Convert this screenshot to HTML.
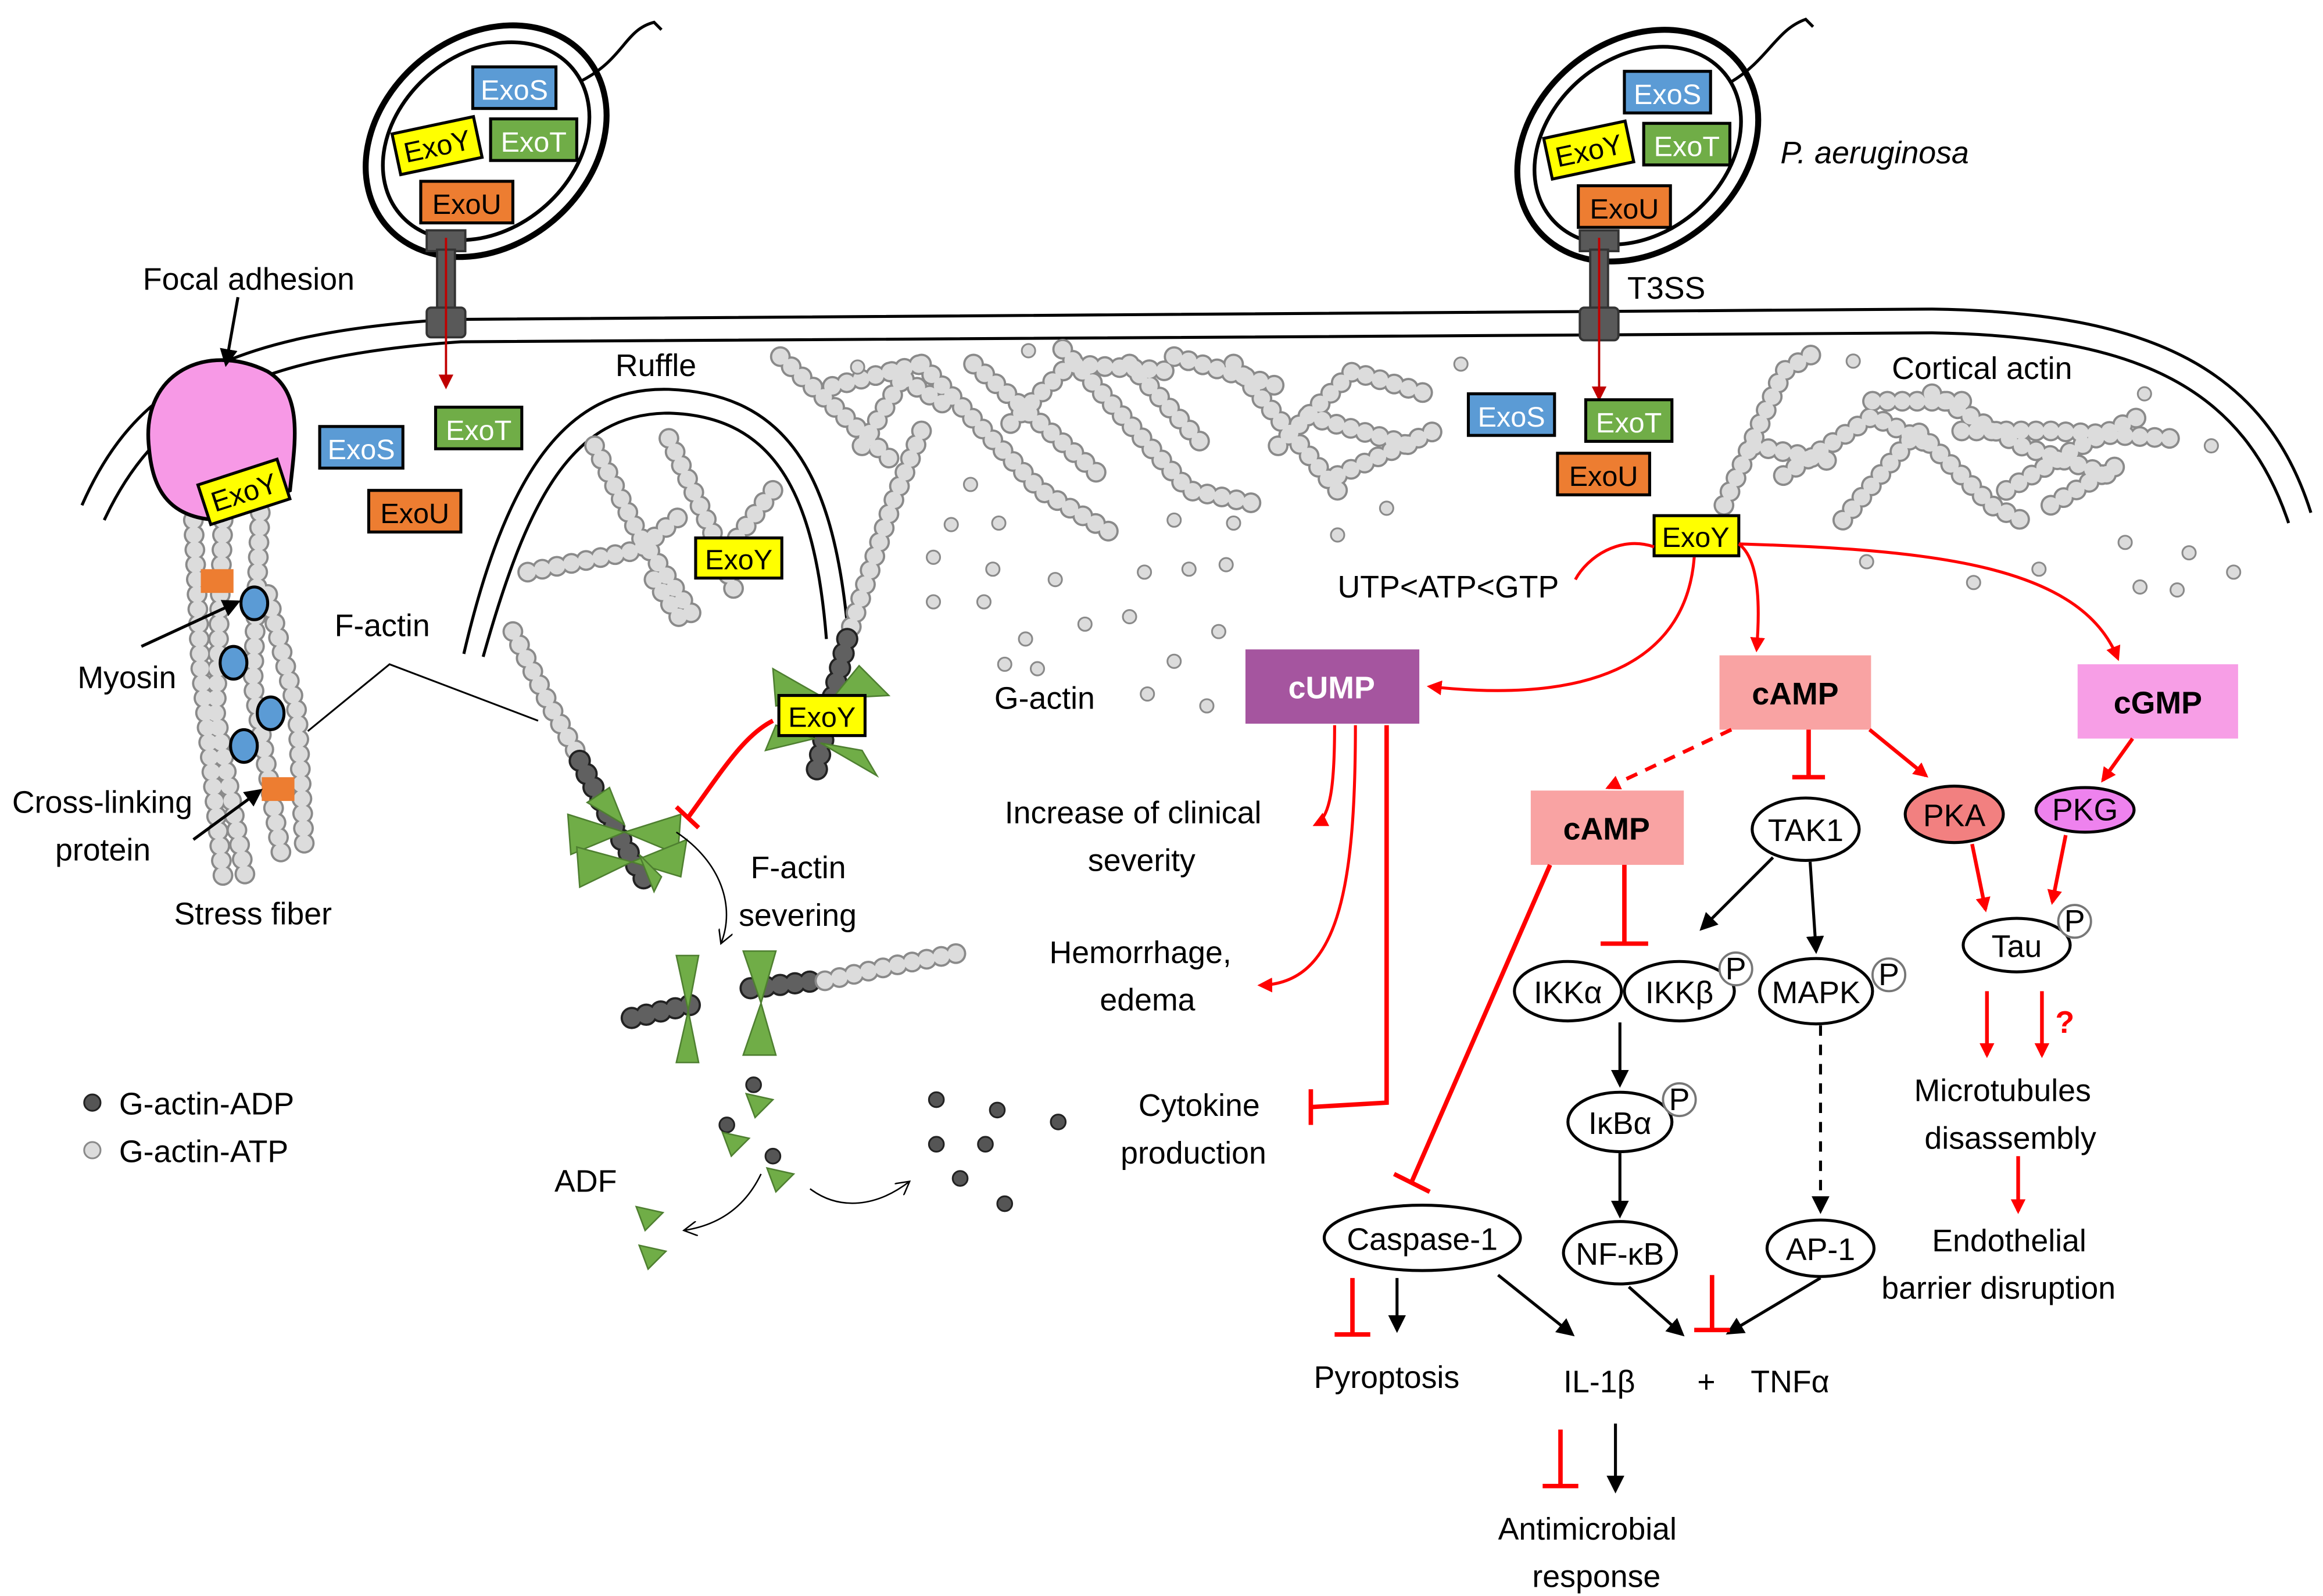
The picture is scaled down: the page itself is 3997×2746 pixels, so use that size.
<!DOCTYPE html>
<html><head><meta charset="utf-8"><style>
html,body{margin:0;padding:0;background:#fff;}
svg{display:block;}
text{font-family:"Liberation Sans",sans-serif;font-size:21px;fill:#000;}
.b{font-size:19px;}
.w{fill:#fff;}
.fo{fill:none;stroke:#8a8a8a;stroke-width:14;stroke-dasharray:0 10;stroke-linecap:round;}
.fi{fill:none;stroke:#dcdcdc;stroke-width:11;stroke-dasharray:0 10;stroke-linecap:round;}
.do{fill:none;stroke:#222;stroke-width:15;stroke-dasharray:0 10;stroke-linecap:round;}
.di{fill:none;stroke:#606060;stroke-width:12;stroke-dasharray:0 10;stroke-linecap:round;}
.r{stroke:#f00;stroke-width:2;fill:none;}
.R{stroke:#f00;stroke-width:3;fill:none;}
.k{stroke:#000;stroke-width:2;fill:none;}
.e{fill:#fff;stroke:#000;stroke-width:2;}
.g{fill:#dcdcdc;stroke:#8a8a8a;stroke-width:1.2;}
.gd{fill:#555;stroke:#222;stroke-width:1.2;}
.tri{fill:#70ad47;stroke:#4e7f30;stroke-width:1;}
</style></head><body>
<svg width="3997" height="2746" viewBox="0 0 1563 1074" xmlns="http://www.w3.org/2000/svg">
<defs>
<marker id="ar" markerWidth="10" markerHeight="10" refX="8" refY="5" orient="auto" markerUnits="userSpaceOnUse"><path d="M0,0 L10,5 L0,10 z" fill="#f00"/></marker>
<marker id="ak" markerWidth="12" markerHeight="12" refX="10" refY="6" orient="auto" markerUnits="userSpaceOnUse"><path d="M0,0 L12,6 L0,12 z" fill="#000"/></marker>
<marker id="ad" markerWidth="10" markerHeight="10" refX="8" refY="5" orient="auto" markerUnits="userSpaceOnUse"><path d="M0,0 L10,5 L0,10 z" fill="#c00000"/></marker>
<marker id="ao" markerWidth="10" markerHeight="10" refX="9" refY="5" orient="auto" markerUnits="userSpaceOnUse"><path d="M0,0 L9,5 L0,10" fill="none" stroke="#000"/></marker>
</defs>

<!-- membrane -->
<path d="M55,340 C90,260 150,225 300,215 L1300,208 C1450,210 1525,250 1555,345" class="k" stroke-width="1.5"/>
<path d="M70,350 C105,275 165,240 310,230 L1300,224 C1440,226 1510,262 1540,352" class="k" stroke-width="1.5"/>
<!-- ruffle -->
<path d="M312,440 C340,320 380,260 450,262 C530,265 560,320 570,420" class="k" stroke-width="1.5"/>
<path d="M325,442 C355,335 385,278 450,278 C520,280 548,330 556,430" class="k" stroke-width="1.5"/>

<g>
<path class="fo" d="M525,240 L600,310 M560,260 L620,245 M580,300 L610,250 M600,250 L640,275 M620,245 L700,330 L750,360 M655,245 L740,320 M680,285 L720,245 L790,250 M715,235 L800,330 L850,340 M760,245 L810,300 M790,240 L860,260 M830,245 L900,330 M860,300 L910,250 L960,265 M880,280 L950,300 M900,320 L965,290"/>
<path class="fi" d="M525,240 L600,310 M560,260 L620,245 M580,300 L610,250 M600,250 L640,275 M620,245 L700,330 L750,360 M655,245 L740,320 M680,285 L720,245 L790,250 M715,235 L800,330 L850,340 M760,245 L810,300 M790,240 L860,260 M830,245 L900,330 M860,300 L910,250 L960,265 M880,280 L950,300 M900,320 L965,290"/>
<path class="fo" d="M1160,340 L1200,250 L1225,235 M1180,300 L1230,310 M1200,320 L1260,280 L1300,300 M1240,350 L1290,290 L1340,340 L1360,350 M1260,270 L1330,270 M1300,265 L1360,300 L1420,320 M1320,290 L1380,290 L1460,295 M1350,330 L1400,300 L1440,280 M1380,340 L1430,310"/>
<path class="fi" d="M1160,340 L1200,250 L1225,235 M1180,300 L1230,310 M1200,320 L1260,280 L1300,300 M1240,350 L1290,290 L1340,340 L1360,350 M1260,270 L1330,270 M1300,265 L1360,300 L1420,320 M1320,290 L1380,290 L1460,295 M1350,330 L1400,300 L1440,280 M1380,340 L1430,310"/>
<path class="fo" d="M355,385 L430,370 L460,345 M400,300 L430,360 L470,420 M450,295 L480,360 L495,400 M520,330 L490,370 M440,390 L460,420"/>
<path class="fi" d="M355,385 L430,370 L460,345 M400,300 L430,360 L470,420 M450,295 L480,360 L495,400 M520,330 L490,370 M440,390 L460,420"/>
<path class="fo" d="M620,290 L600,340 L580,400 L570,430"/>
<path class="fi" d="M620,290 L600,340 L580,400 L570,430"/>
<path class="do" d="M570,430 L560,470 L548,525"/>
<path class="di" d="M570,430 L560,470 L548,525"/>
<path class="fo" d="M345,425 L370,475 L390,510"/>
<path class="fi" d="M345,425 L370,475 L390,510"/>
<path class="do" d="M390,512 L415,560 L437,598"/>
<path class="di" d="M390,512 L415,560 L437,598"/>
<path class="do" d="M425,685 L470,675 M505,665 L550,660"/>
<path class="di" d="M425,685 L470,675 M505,665 L550,660"/>
<path class="fo" d="M555,660 L600,650 L652,640"/>
<path class="fi" d="M555,660 L600,650 L652,640"/>
<path class="fo" d="M130,350 L135,450 L150,590 M150,350 L145,480 L165,590 M175,345 L170,460 L190,580 M180,400 L200,480 L205,575"/>
<path class="fi" d="M130,350 L135,450 L150,590 M150,350 L145,480 L165,590 M175,345 L170,460 L190,580 M180,400 L200,480 L205,575"/>
</g>

<g class="g">
<circle cx="577" cy="247" r="4.5"/><circle cx="692" cy="236" r="4.5"/><circle cx="653" cy="326" r="4.5"/><circle cx="640" cy="353" r="4.5"/><circle cx="672" cy="352" r="4.5"/><circle cx="628" cy="375" r="4.5"/><circle cx="668" cy="383" r="4.5"/><circle cx="710" cy="390" r="4.5"/><circle cx="628" cy="405" r="4.5"/><circle cx="662" cy="405" r="4.5"/><circle cx="690" cy="430" r="4.5"/><circle cx="730" cy="420" r="4.5"/><circle cx="770" cy="385" r="4.5"/><circle cx="800" cy="383" r="4.5"/><circle cx="825" cy="380" r="4.5"/><circle cx="790" cy="350" r="4.5"/><circle cx="830" cy="352" r="4.5"/><circle cx="760" cy="415" r="4.5"/><circle cx="790" cy="445" r="4.5"/><circle cx="820" cy="425" r="4.5"/><circle cx="676" cy="447" r="4.5"/><circle cx="698" cy="450" r="4.5"/><circle cx="772" cy="467" r="4.5"/><circle cx="812" cy="475" r="4.5"/><circle cx="900" cy="360" r="4.5"/><circle cx="933" cy="342" r="4.5"/><circle cx="983" cy="245" r="4.5"/><circle cx="1247" cy="243" r="4.5"/><circle cx="1443" cy="265" r="4.5"/><circle cx="1488" cy="300" r="4.5"/><circle cx="1430" cy="365" r="4.5"/><circle cx="1473" cy="372" r="4.5"/><circle cx="1503" cy="385" r="4.5"/><circle cx="1440" cy="395" r="4.5"/><circle cx="1465" cy="397" r="4.5"/><circle cx="1328" cy="392" r="4.5"/><circle cx="1372" cy="383" r="4.5"/><circle cx="1256" cy="378" r="4.5"/>
<circle cx="62" cy="774" r="5.5"/>
</g>
<g class="gd">
<circle cx="62" cy="742" r="5.5"/>
<circle cx="507" cy="730" r="5"/><circle cx="489" cy="757" r="5"/><circle cx="520" cy="778" r="5"/><circle cx="630" cy="740" r="5"/><circle cx="671" cy="747" r="5"/><circle cx="712" cy="755" r="5"/><circle cx="630" cy="770" r="5"/><circle cx="663" cy="770" r="5"/><circle cx="646" cy="793" r="5"/><circle cx="676" cy="810" r="5"/>
</g>

<!-- ADF bow-ties -->
<g class="tri">
<polygon points="382,548 420,560 384,575"/><polygon points="458,548 420,560 456,575"/>
<polygon points="388,570 425,580 390,597"/><polygon points="462,565 425,580 458,590"/>
<polygon points="395,540 420,555 410,530"/><polygon points="445,590 430,575 440,600"/>
<polygon points="455,643 463,680 470,643"/><polygon points="455,715 463,680 470,715"/>
<polygon points="500,640 512,675 522,640"/><polygon points="500,710 512,675 522,710"/>
<polygon points="520,450 555,470 522,475"/><polygon points="598,468 560,470 578,448"/>
<polygon points="515,505 548,497 522,488"/><polygon points="590,522 552,500 580,505"/>
<polygon points="502,736 520,740 508,752"/><polygon points="486,762 504,766 492,778"/><polygon points="516,786 534,790 522,802"/><polygon points="428,812 446,816 434,828"/><polygon points="430,838 448,842 436,854"/>
</g>

<path d="M100,300 C95,250 140,230 180,250 C205,265 198,300 195,330 L150,350 C110,350 102,325 100,300z" fill="#f799e6" stroke="#000" stroke-width="2.5"/>
<rect x="135" y="383" width="22" height="16" fill="#ed7d31"/>
<rect x="176" y="523" width="22" height="16" fill="#ed7d31"/>
<g fill="#5b9bd5" stroke="#000" stroke-width="2">
<ellipse cx="171" cy="406" rx="9" ry="11"/><ellipse cx="157" cy="446" rx="9" ry="11"/><ellipse cx="182" cy="480" rx="9" ry="11"/><ellipse cx="164" cy="502" rx="9" ry="11"/>
</g>

<g fill="none" stroke="#000">
<ellipse cx="327" cy="95" rx="88" ry="70" stroke-width="4" transform="rotate(-40 327 95)"/>
<ellipse cx="327" cy="95" rx="76" ry="59" stroke-width="2.5" transform="rotate(-40 327 95)"/>
<path d="M390,55 C420,40 420,20 440,15 L445,20" stroke-width="2"/>
<ellipse cx="1102" cy="98" rx="88" ry="70" stroke-width="4" transform="rotate(-40 1102 98)"/>
<ellipse cx="1102" cy="98" rx="76" ry="59" stroke-width="2.5" transform="rotate(-40 1102 98)"/>
<path d="M1165,55 C1190,40 1195,20 1215,13 L1220,18" stroke-width="2"/>
</g>
<g fill="#595959" stroke="#333" stroke-width="1.5">
<rect x="287" y="155" width="26" height="14"/><rect x="294" y="168" width="12" height="40"/><rect x="287" y="207" width="26" height="20" rx="3"/>
<rect x="1063" y="155" width="26" height="14"/><rect x="1070" y="168" width="12" height="40"/><rect x="1063" y="207" width="26" height="22" rx="3"/>
</g>
<path d="M300,160 L300,260" stroke="#c00000" stroke-width="1.5" marker-end="url(#ad)"/>
<path d="M1076,160 L1076,268" stroke="#c00000" stroke-width="1.5" marker-end="url(#ad)"/>

<g stroke="#000" stroke-width="2">
<rect x="318" y="45" width="56" height="28" fill="#5b9bd5"/><rect x="330" y="80" width="58" height="28" fill="#70ad47"/><rect x="283" y="122" width="62" height="28" fill="#ed7d31"/>
<rect x="266" y="84" width="56" height="28" fill="#ffff00" transform="rotate(-12 294 98)"/>
<rect x="1093" y="48" width="58" height="28" fill="#5b9bd5"/><rect x="1106" y="83" width="58" height="28" fill="#70ad47"/><rect x="1062" y="125" width="62" height="28" fill="#ed7d31"/>
<rect x="1041" y="87" width="56" height="28" fill="#ffff00" transform="rotate(-12 1069 101)"/>
<rect x="215" y="287" width="56" height="28" fill="#5b9bd5"/><rect x="293" y="274" width="58" height="28" fill="#70ad47"/><rect x="248" y="330" width="62" height="28" fill="#ed7d31"/>
<rect x="136" y="317" width="56" height="28" fill="#ffff00" transform="rotate(-18 164 331)"/>
<rect x="988" y="265" width="58" height="28" fill="#5b9bd5"/><rect x="1067" y="269" width="58" height="28" fill="#70ad47"/><rect x="1048" y="305" width="62" height="28" fill="#ed7d31"/>
<rect x="1113" y="347" width="57" height="27" fill="#ffff00"/>
<rect x="468" y="362" width="58" height="27" fill="#ffff00"/>
<rect x="524" y="468" width="58" height="27" fill="#ffff00"/>
</g>
<g class="b">
<text x="346" y="67" text-anchor="middle" class="w b">ExoS</text><text x="359" y="102" text-anchor="middle" class="w b">ExoT</text><text x="314" y="144" text-anchor="middle" class="b">ExoU</text><text x="294" y="105" text-anchor="middle" class="b" transform="rotate(-12 294 98)">ExoY</text>
<text x="1122" y="70" text-anchor="middle" class="w b">ExoS</text><text x="1135" y="105" text-anchor="middle" class="w b">ExoT</text><text x="1093" y="147" text-anchor="middle" class="b">ExoU</text><text x="1069" y="108" text-anchor="middle" class="b" transform="rotate(-12 1069 101)">ExoY</text>
<text x="243" y="309" text-anchor="middle" class="w b">ExoS</text><text x="322" y="296" text-anchor="middle" class="w b">ExoT</text><text x="279" y="352" text-anchor="middle" class="b">ExoU</text><text x="164" y="338" text-anchor="middle" class="b" transform="rotate(-18 164 331)">ExoY</text>
<text x="1017" y="287" text-anchor="middle" class="w b">ExoS</text><text x="1096" y="291" text-anchor="middle" class="w b">ExoT</text><text x="1079" y="327" text-anchor="middle" class="b">ExoU</text>
<text x="1141" y="368" text-anchor="middle" class="b">ExoY</text><text x="497" y="383" text-anchor="middle" class="b">ExoY</text><text x="553" y="489" text-anchor="middle" class="b">ExoY</text>
</g>

<text x="96" y="195">Focal adhesion</text>
<path d="M160,200 L152,245" class="k" marker-end="url(#ak)"/>
<text x="414" y="253">Ruffle</text>
<text x="52" y="463">Myosin</text>
<path d="M95,435 L160,405" class="k" marker-end="url(#ak)"/>
<text x="225" y="428">F-actin</text>
<path d="M207,492 L262,447 L362,485" stroke="#000" stroke-width="1.2" fill="none"/>
<text x="8" y="547">Cross-linking</text><text x="37" y="579">protein</text>
<path d="M130,565 L175,532" class="k" marker-end="url(#ak)"/>
<text x="117" y="622">Stress fiber</text>
<text x="80" y="750">G-actin-ADP</text><text x="80" y="782">G-actin-ATP</text>
<path d="M520,485 C500,495 485,520 463,550" class="R"/><path d="M455,543 L470,557" stroke="#f00" stroke-width="3"/>
<text x="505" y="591">F-actin</text><text x="497" y="623">severing</text>
<path d="M455,560 C485,580 495,610 485,635" stroke="#000" stroke-width="1" fill="none" marker-end="url(#ao)"/>
<text x="373" y="802">ADF</text>
<path d="M512,790 C500,815 480,825 460,828" stroke="#000" stroke-width="1" fill="none" marker-end="url(#ao)"/>
<path d="M545,800 C565,815 590,812 612,795" stroke="#000" stroke-width="1" fill="none" marker-end="url(#ao)"/>
<text x="669" y="477">G-actin</text>
<text x="900" y="402">UTP&lt;ATP&lt;GTP</text>
<text x="1198" y="110" font-style="italic">P. aeruginosa</text>
<text x="1095" y="201">T3SS</text>
<text x="1273" y="255">Cortical actin</text>

<path d="M1113,368 C1090,360 1068,375 1060,390" class="r"/>
<path d="M1140,375 C1135,440 1080,475 962,462" class="r" marker-end="url(#ar)"/>
<path d="M1170,366 C1182,375 1185,400 1182,437" class="r" marker-end="url(#ar)"/>
<path d="M1170,366 C1300,370 1400,380 1425,443" class="r" marker-end="url(#ar)"/>

<rect x="838" y="437" width="117" height="50" fill="#a5559f"/><text x="896" y="470" text-anchor="middle" class="w" font-weight="bold">cUMP</text>
<rect x="1157" y="441" width="102" height="50" fill="#f9a3a3"/><text x="1208" y="474" text-anchor="middle" font-weight="bold">cAMP</text>
<rect x="1030" y="532" width="103" height="50" fill="#f9a3a3"/><text x="1081" y="565" text-anchor="middle" font-weight="bold">cAMP</text>
<rect x="1398" y="447" width="108" height="50" fill="#f79ee6"/><text x="1452" y="480" text-anchor="middle" font-weight="bold">cGMP</text>

<path d="M898,488 C898,530 895,550 885,555" class="r" stroke-width="1.2" marker-end="url(#ar)"/>
<text x="676" y="554">Increase of clinical</text><text x="732" y="586">severity</text>
<path d="M912,488 C912,600 900,662 848,663" class="r" stroke-width="1.2" marker-end="url(#ar)"/>
<text x="706" y="648">Hemorrhage,</text><text x="740" y="680">edema</text>
<path d="M933,488 L933,742 L882,745" class="R"/><path d="M882,733 L882,757" stroke="#f00" stroke-width="3"/>
<text x="766" y="751">Cytokine</text><text x="754" y="783">production</text>

<path d="M1165,491 L1082,530" stroke="#f00" stroke-width="2.5" stroke-dasharray="8,6" marker-end="url(#ar)"/>
<path d="M1217,491 L1217,523" class="R"/><path d="M1206,523 L1228,523" stroke="#f00" stroke-width="3"/>
<path d="M1258,491 L1296,522" stroke="#f00" stroke-width="2.5" marker-end="url(#ar)"/>
<path d="M1435,497 L1415,525" stroke="#f00" stroke-width="2.5" marker-end="url(#ar)"/>
<path d="M1093,582 L1093,635" class="R"/><path d="M1077,635 L1109,635" stroke="#f00" stroke-width="3"/>
<path d="M1043,582 L950,795" class="R"/><path d="M938,790 L962,802" stroke="#f00" stroke-width="3"/>

<ellipse cx="1215" cy="558" rx="36" ry="21" class="e"/><text x="1215" y="566" text-anchor="middle">TAK1</text>
<ellipse cx="1315" cy="548" rx="33" ry="19" fill="#f28080" stroke="#000" stroke-width="2"/><text x="1315" y="556" text-anchor="middle">PKA</text>
<ellipse cx="1403" cy="545" rx="33" ry="15" fill="#ee82ee" stroke="#000" stroke-width="2"/><text x="1403" y="552" text-anchor="middle">PKG</text>
<path d="M1327,568 L1336,612" stroke="#f00" stroke-width="2.5" marker-end="url(#ar)"/>
<path d="M1390,562 L1381,607" stroke="#f00" stroke-width="2.5" marker-end="url(#ar)"/>
<ellipse cx="1357" cy="636" rx="36" ry="18" class="e"/><text x="1357" y="644" text-anchor="middle">Tau</text>
<circle cx="1396" cy="620" r="11" fill="#fff" stroke="#777" stroke-width="1.5"/><text x="1396" y="627" text-anchor="middle" font-size="17">P</text>
<path d="M1337,667 L1337,710" stroke="#f00" stroke-width="2.5" marker-end="url(#ar)"/>
<path d="M1374,667 L1374,710" stroke="#f00" stroke-width="2.5" marker-end="url(#ar)"/>
<text x="1383" y="695" style="fill:#f00" font-weight="bold">?</text>
<text x="1288" y="741">Microtubules</text><text x="1295" y="773">disassembly</text>
<path d="M1358,778 L1358,815" stroke="#f00" stroke-width="2.5" marker-end="url(#ar)"/>
<text x="1300" y="842">Endothelial</text><text x="1266" y="874">barrier disruption</text>

<path d="M1193,577 L1145,625" class="k" marker-end="url(#ak)"/>
<path d="M1218,580 L1222,640" class="k" marker-end="url(#ak)"/>
<ellipse cx="1055" cy="667" rx="36" ry="20" class="e"/><text x="1055" y="675" text-anchor="middle">IKKα</text>
<ellipse cx="1130" cy="667" rx="37" ry="20" class="e"/><text x="1130" y="675" text-anchor="middle">IKKβ</text>
<circle cx="1168" cy="652" r="11" fill="#fff" stroke="#777" stroke-width="1.5"/><text x="1168" y="659" text-anchor="middle" font-size="17">P</text>
<ellipse cx="1222" cy="667" rx="38" ry="22" class="e"/><text x="1222" y="675" text-anchor="middle">MAPK</text>
<circle cx="1271" cy="656" r="11" fill="#fff" stroke="#777" stroke-width="1.5"/><text x="1271" y="663" text-anchor="middle" font-size="17">P</text>
<path d="M1090,688 L1090,730" class="k" marker-end="url(#ak)"/>
<ellipse cx="1090" cy="755" rx="35" ry="20" class="e"/><text x="1090" y="763" text-anchor="middle">IκBα</text>
<circle cx="1130" cy="740" r="11" fill="#fff" stroke="#777" stroke-width="1.5"/><text x="1130" y="747" text-anchor="middle" font-size="17">P</text>
<path d="M1090,776 L1090,818" class="k" marker-end="url(#ak)"/>
<ellipse cx="1090" cy="843" rx="38" ry="21" class="e"/><text x="1090" y="851" text-anchor="middle">NF-κB</text>
<path d="M1225,690 L1225,815" class="k" stroke-dasharray="7,6" marker-end="url(#ak)"/>
<ellipse cx="1225" cy="840" rx="36" ry="19" class="e"/><text x="1225" y="848" text-anchor="middle">AP-1</text>
<ellipse cx="957" cy="833" rx="66" ry="22" class="e"/><text x="957" y="841" text-anchor="middle">Caspase-1</text>

<path d="M910,860 L910,898" class="R"/><path d="M898,898 L922,898" stroke="#f00" stroke-width="3"/>
<path d="M940,860 L940,895" class="k" marker-end="url(#ak)"/>
<text x="884" y="934">Pyroptosis</text>
<path d="M1008,858 L1058,898" class="k" marker-end="url(#ak)"/>
<text x="1052" y="937">IL-1β</text><text x="1142" y="937">+</text><text x="1178" y="937">TNFα</text>
<path d="M1096,866 L1132,898" class="k" marker-end="url(#ak)"/>
<path d="M1225,860 L1163,897" class="k" marker-end="url(#ak)"/>
<path d="M1152,858 L1152,895" class="R"/><path d="M1140,895 L1164,895" stroke="#f00" stroke-width="3"/>
<path d="M1050,962 L1050,1000" class="R"/><path d="M1038,1000 L1062,1000" stroke="#f00" stroke-width="3"/>
<path d="M1087,958 L1087,1003" class="k" marker-end="url(#ak)"/>
<text x="1008" y="1036">Antimicrobial</text><text x="1031" y="1068">response</text>
</svg>
</body></html>
